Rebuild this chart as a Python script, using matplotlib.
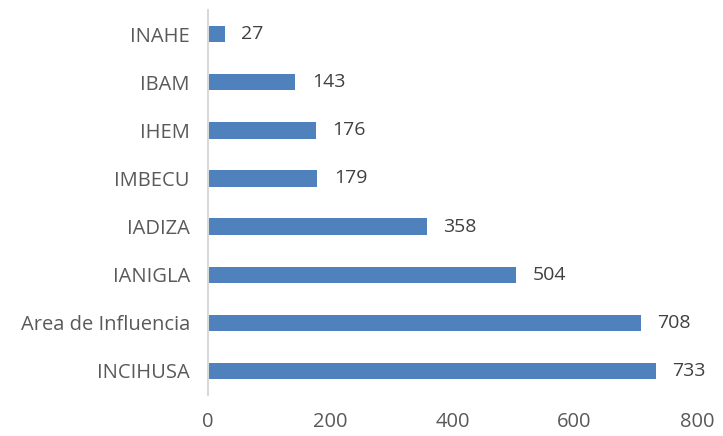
import matplotlib
matplotlib.use('Agg')
from matplotlib import pyplot as plt

categories = ['INCIHUSA', 'Area de Influencia', 'IANIGLA', 'IADIZA',
              'IMBECU', 'IHEM', 'IBAM', 'INAHE']
values = [733, 708, 504, 358, 179, 176, 143, 27]
x_ticks = [0, 200, 400, 600, 800]

plt.rcParams['font.family'] = ['Open Sans', 'DejaVu Sans']

fig = plt.figure(figsize=(7.23, 4.36), dpi=100)
ax = fig.add_axes([0.2877, 0.094, 0.676, 0.883])

pos = list(range(len(categories)))
ax.barh(pos, values, height=0.34, color='#4F81BD')
for p, v in zip(pos, values):
    ax.annotate(str(v), (v, p), xytext=(12, 0), textcoords='offset points',
                va='center', ha='left', fontsize=14, color='#404040')

ax.set_xlim(0, 800)
ax.set_ylim(-0.5, len(categories) - 0.5)
ax.set_yticks(pos)
ax.set_yticklabels(categories, fontsize=14.5, color='#595959')
ax.set_xticks(x_ticks)
ax.set_xticklabels([str(t) for t in x_ticks], fontsize=14.5, color='#595959')
ax.tick_params(axis='both', length=0)
ax.tick_params(axis='y', pad=13)
ax.tick_params(axis='x', pad=12)

for s in ['top', 'right', 'bottom']:
    ax.spines[s].set_visible(False)
ax.spines['left'].set_color('#D9D9D9')
ax.spines['left'].set_linewidth(1.5)

fig.savefig('out.png', dpi=100)
